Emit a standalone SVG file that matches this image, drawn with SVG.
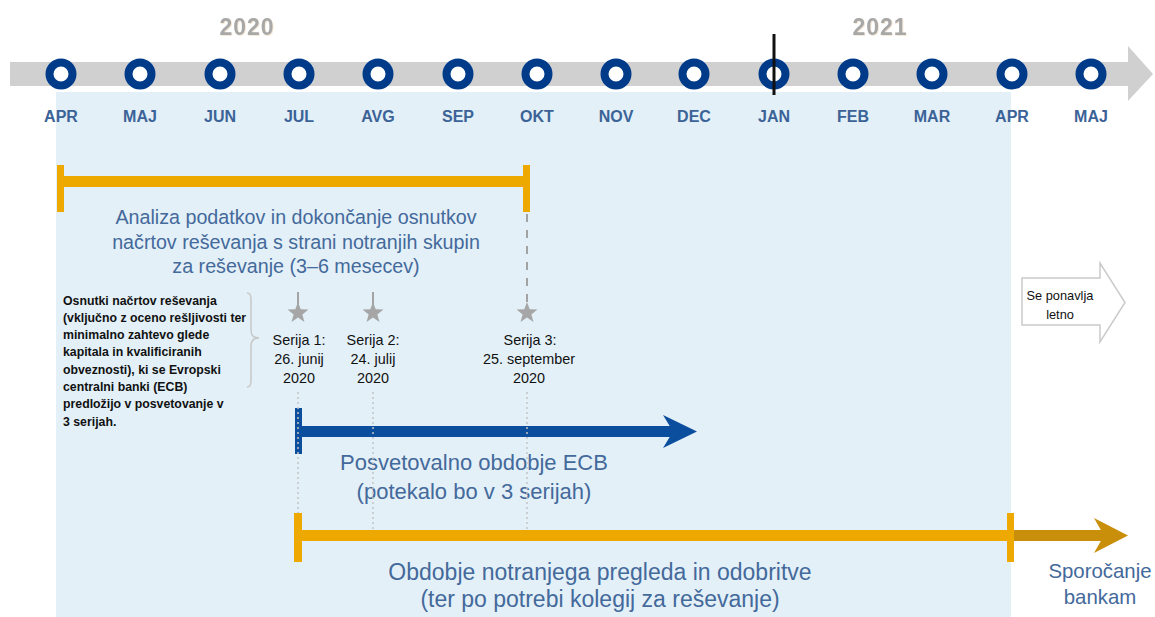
<svg xmlns="http://www.w3.org/2000/svg" xmlns:xlink="http://www.w3.org/1999/xlink" width="1155" height="617" viewBox="0 0 1155 617">
  <style>
    .month { font-family: "Liberation Sans", Arial, sans-serif; font-weight: bold; font-size: 16px; fill: #3B6397; text-anchor: middle; }
    .year { font-family: "Liberation Sans", Arial, sans-serif; font-weight: bold; font-size: 23px; fill: #A8A8A8; text-anchor: middle; letter-spacing: 1px; }
    .dot { fill: #FFFFFF; stroke: #003B8A; stroke-width: 8; }
    .big { font-family: "Liberation Sans", Arial, sans-serif; fill: #44699B; text-anchor: middle; }
    .ser { font-family: "Liberation Sans", Arial, sans-serif; font-size: 14.4px; fill: #111111; text-anchor: middle; }
    .note { font-family: "Liberation Sans", Arial, sans-serif; font-weight: bold; font-size: 12.3px; fill: #111111; }
    .yellow { fill: #EEA900; }
    .gold { fill: #C98E0A; }
    .blue { fill: #0C4E9E; }
    .dotted { stroke: #C4C4C4; stroke-width: 1.5; stroke-dasharray: 2 3; fill: none; }
    .tick { stroke: #A3A3A3; stroke-width: 2; fill: none; }
    .star { fill: #A6A6A6; }
  </style>
  <defs>
    <polygon id="star" points="0,-11 2.7,-3.72 10.46,-3.4 4.37,1.42 6.47,8.9 0,4.6 -6.47,8.9 -4.37,1.42 -10.46,-3.4 -2.7,-3.72"/>
    <filter id="shadow" x="-10%" y="-10%" width="130%" height="140%">
      <feDropShadow dx="0.8" dy="0.8" stdDeviation="0.5" flood-color="#E6C49A" flood-opacity="0.45"/>
    </filter>
  </defs>

  <rect id="background-panel" x="56" y="92" width="955" height="525" fill="#E3F0F8"/>

  <g id="timeline">
    <polygon points="10,62 1128,62 1128,46 1153,74 1128,101 1128,86 10,86" fill="#D0D0D0"/>
    <text class="year" x="247" y="35" filter="url(#shadow)">2020</text>
    <text class="year" x="880" y="35" filter="url(#shadow)">2021</text>
    <g id="month-dots">
      <circle class="dot" cx="61" cy="74" r="11.5"/>
      <circle class="dot" cx="140" cy="74" r="11.5"/>
      <circle class="dot" cx="220" cy="74" r="11.5"/>
      <circle class="dot" cx="299" cy="74" r="11.5"/>
      <circle class="dot" cx="378" cy="74" r="11.5"/>
      <circle class="dot" cx="458" cy="74" r="11.5"/>
      <circle class="dot" cx="537" cy="74" r="11.5"/>
      <circle class="dot" cx="616" cy="74" r="11.5"/>
      <circle class="dot" cx="694" cy="74" r="11.5"/>
      <circle class="dot" cx="774" cy="74" r="11.5"/>
      <circle class="dot" cx="853" cy="74" r="11.5"/>
      <circle class="dot" cx="932" cy="74" r="11.5"/>
      <circle class="dot" cx="1012" cy="74" r="11.5"/>
      <circle class="dot" cx="1091" cy="74" r="11.5"/>
    </g>
    <line x1="774" y1="34" x2="774" y2="95" stroke="#111111" stroke-width="3"/>
    <g id="month-labels">
      <text class="month" x="61" y="122">APR</text>
      <text class="month" x="140" y="122">MAJ</text>
      <text class="month" x="220" y="122">JUN</text>
      <text class="month" x="299" y="122">JUL</text>
      <text class="month" x="378" y="122">AVG</text>
      <text class="month" x="458" y="122">SEP</text>
      <text class="month" x="537" y="122">OKT</text>
      <text class="month" x="616" y="122">NOV</text>
      <text class="month" x="694" y="122">DEC</text>
      <text class="month" x="774" y="122">JAN</text>
      <text class="month" x="853" y="122">FEB</text>
      <text class="month" x="932" y="122">MAR</text>
      <text class="month" x="1012" y="122">APR</text>
      <text class="month" x="1091" y="122">MAJ</text>
    </g>
  </g>

  <g id="analysis-bar">
    <rect class="yellow" x="57" y="176" width="472" height="11"/>
    <rect class="yellow" x="57" y="165" width="7" height="47"/>
    <rect class="yellow" x="523" y="165" width="7" height="47"/>
    <text class="big" font-size="19.7" x="296" y="224">Analiza podatkov in dokončanje osnutkov</text>
    <text class="big" font-size="19.7" x="296" y="249">načrtov reševanja s strani notranjih skupin</text>
    <text class="big" font-size="19.7" x="296" y="273">za reševanje (3–6 mesecev)</text>
  </g>

  <g id="note">
    <text class="note" x="63" y="304.5">Osnutki načrtov reševanja</text>
    <text class="note" x="63" y="321.8">(vključno z oceno rešljivosti ter</text>
    <text class="note" x="63" y="339.1">minimalno zahtevo glede</text>
    <text class="note" x="63" y="356.4">kapitala in kvalificiranih</text>
    <text class="note" x="63" y="373.7">obveznosti), ki se Evropski</text>
    <text class="note" x="63" y="391">centralni banki (ECB)</text>
    <text class="note" x="63" y="408.3">predložijo v posvetovanje v</text>
    <text class="note" x="63" y="425.6">3 serijah.</text>
    <path d="M247,293 Q251,293 251,299 L251,330 Q251,338 259,338 Q251,338 251,346 L251,381 Q251,387 247,387" fill="none" stroke="#C8C8C8" stroke-width="1.5"/>
  </g>

  <g id="ecb-arrow">
    <rect class="blue" x="295" y="408" width="7" height="46"/>
    <rect class="blue" x="300" y="426" width="378" height="11"/>
    <polygon class="blue" points="663,415 697,431.5 663,448 673,431.5"/>
    <text class="big" font-size="22" x="474" y="470">Posvetovalno obdobje ECB</text>
    <text class="big" font-size="22" x="474" y="499">(potekalo bo v 3 serijah)</text>
  </g>

  <g id="connectors">
    <line class="tick" x1="298" y1="292" x2="298" y2="305"/>
    <line class="tick" x1="373" y1="292" x2="373" y2="305"/>
    <line class="tick" x1="527" y1="214" x2="527" y2="305" stroke-dasharray="8 8"/>
    <line class="dotted" x1="298" y1="392" x2="298" y2="513"/>
    <line class="dotted" x1="373" y1="392" x2="373" y2="531"/>
    <line class="dotted" x1="527" y1="392" x2="527" y2="531"/>
  </g>

  <g id="series-1">
    <use xlink:href="#star" href="#star" class="star" x="298" y="313"/>
    <text class="ser" x="299" y="345">Serija 1:</text>
    <text class="ser" x="299" y="364">26. junij</text>
    <text class="ser" x="299" y="383">2020</text>
  </g>
  <g id="series-2">
    <use xlink:href="#star" href="#star" class="star" x="373" y="313"/>
    <text class="ser" x="373" y="345">Serija 2:</text>
    <text class="ser" x="373" y="364">24. julij</text>
    <text class="ser" x="373" y="383">2020</text>
  </g>
  <g id="series-3">
    <use xlink:href="#star" href="#star" class="star" x="527" y="313"/>
    <text class="ser" x="530" y="345">Serija 3:</text>
    <text class="ser" x="529" y="364">25. september</text>
    <text class="ser" x="529" y="383">2020</text>
  </g>

  <g id="review-bar">
    <rect class="yellow" x="294" y="530" width="716" height="11"/>
    <rect class="yellow" x="294" y="513" width="8" height="49"/>
    <rect class="yellow" x="1007" y="513" width="7" height="49"/>
    <text class="big" font-size="23" x="600" y="580">Obdobje notranjega pregleda in odobritve</text>
    <text class="big" font-size="23" x="600" y="607">(ter po potrebi kolegij za reševanje)</text>
  </g>

  <g id="communication-arrow">
    <rect class="gold" x="1014" y="530" width="90" height="11"/>
    <polygon class="gold" points="1094,518 1128,535.5 1094,553 1104,535.5"/>
    <text class="big" font-size="20.4" x="1100" y="578">Sporočanje</text>
    <text class="big" font-size="20.4" x="1100" y="604">bankam</text>
  </g>

  <g id="repeat-arrow">
    <polygon points="1022,278 1100,278 1100,263 1125,302.5 1100,342 1100,325 1022,325" fill="#FFFFFF" stroke="#CACACA" stroke-width="1.5"/>
    <text font-family="'Liberation Sans', Arial, sans-serif" font-size="12.8" fill="#111111" text-anchor="middle" x="1060" y="300">Se ponavlja</text>
    <text font-family="'Liberation Sans', Arial, sans-serif" font-size="12.8" fill="#111111" text-anchor="middle" x="1060" y="319">letno</text>
  </g>
</svg>
